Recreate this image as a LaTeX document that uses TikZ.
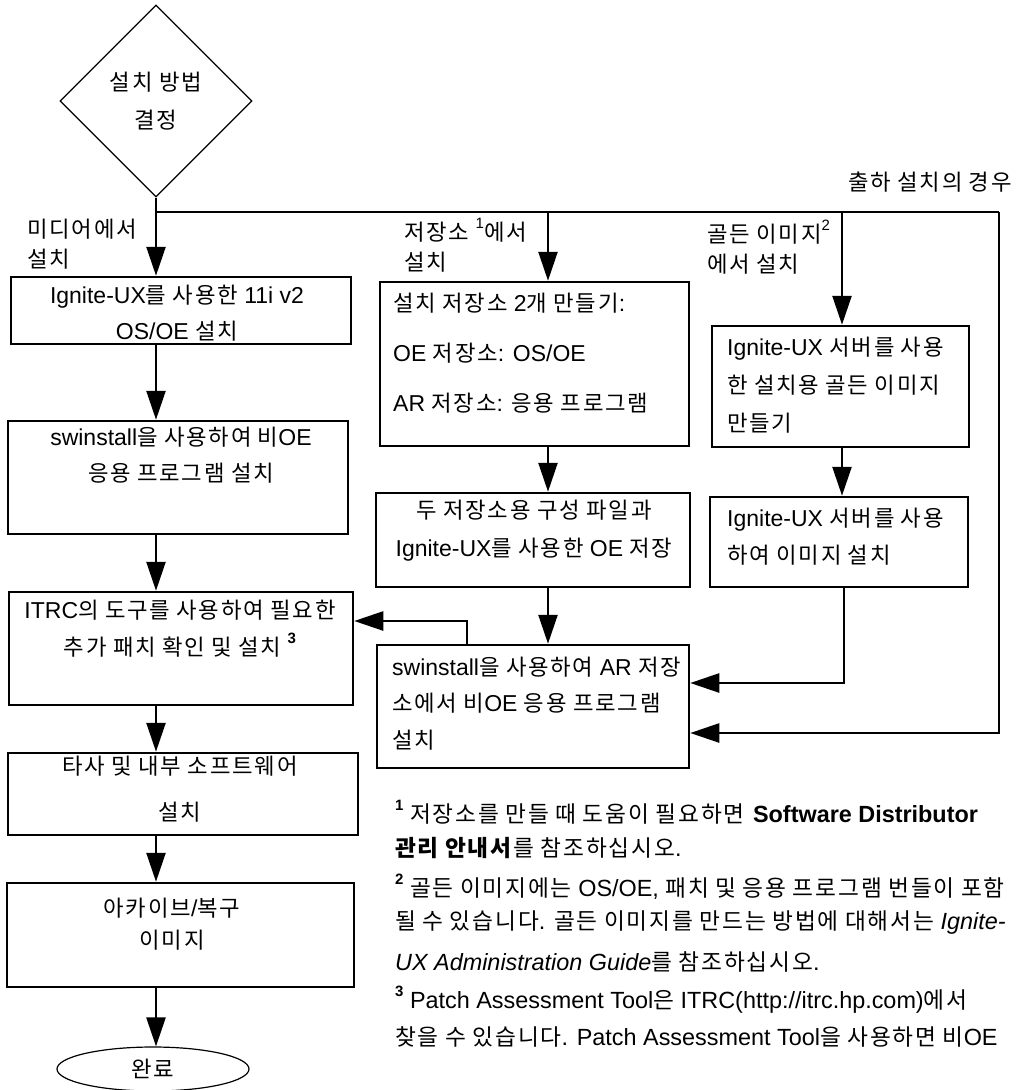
\documentclass[tikz,border=0pt]{standalone}
\usepackage{fontspec}
\setmainfont{Liberation Sans}
\newfontfamily\krfont{Noto Sans CJK KR}[Scale=0.97,LetterSpace=8,NFSSFamily=krnf]
\usetikzlibrary{arrows.meta,shapes.geometric}
% automatic font switching for Hangul syllables
\XeTeXinterchartokenstate=1
\newXeTeXintercharclass\krcls
\newcount\krcnt
\krcnt="AC00
\loop
  \XeTeXcharclass\krcnt=\krcls
  \ifnum\krcnt<"D7A3 \advance\krcnt by 1
\repeat
\def\krswitch{\fontfamily{krnf}\selectfont}
\def\laswitch{\fontfamily{\rmdefault}\selectfont}
\XeTeXinterchartoks 0 \krcls = {\krswitch}
\XeTeXinterchartoks 4095 \krcls = {\krswitch}
\XeTeXinterchartoks \krcls 0 = {\laswitch}
\XeTeXinterchartoks \krcls 4095 = {\laswitch}
\newcommand\supn[1]{\raisebox{0.5em}{\fontsize{15}{15}\selectfont #1}}
\newcommand\supb[1]{\raisebox{0.5em}{\fontsize{15}{15}\selectfont\bfseries #1}}
\tikzset{
  bx/.style={draw, line width=2.5pt, rectangle, inner sep=0pt},
  ln/.style={line width=2.5pt},
  arr/.style={line width=2.5pt, -{Triangle[length=29pt,width=19pt]}},
  txt/.style={inner sep=0pt, font=\fontsize{23}{36}\selectfont},
  fn/.style={inner sep=0pt, anchor=west, font=\fontsize{23.4}{36}\selectfont},
}
\begin{document}
\begin{tikzpicture}[x=1pt,y=-1pt]
\useasboundingbox (0,0) rectangle (1022,1090);
% decision
\node[draw, diamond, aspect=1, line width=1.3pt, minimum width=192pt, minimum height=192pt,
      inner sep=0pt, align=center, font=\fontsize{23}{38}\selectfont] (D) at (156,101) {설치 방법\\결정};
% left column boxes
\node[bx, minimum width=340pt, minimum height=67pt] (L1) at (181,310.5) {};
\node[txt, align=center] (L1t) at (177,313) {Ignite-UX를 사용한 11i v2\\OS/OE 설치};
\node[bx, minimum width=340pt, minimum height=113pt] (L2) at (178,477.5) {};
\node[txt, align=center] (L2t) at (181,455) {swinstall을 사용하여 비OE\\응용 프로그램 설치};
\node[bx, minimum width=344pt, minimum height=113pt] (L3) at (181,648.5) {};
\node[txt, align=center, font=\fontsize{23}{37}\selectfont] (L3t) at (180,628.5) {ITRC의 도구를 사용하여 필요한\\추가 패치 확인 및 설치 \supb{3}};
\node[bx, minimum width=350pt, minimum height=82pt] (L4) at (183,794) {};
\node[txt, align=center, font=\fontsize{23}{46}\selectfont] (L4t) at (180,789) {타사 및 내부 소프트웨어\\설치};
\node[bx, minimum width=347pt, minimum height=104pt] (L5) at (180.5,935) {};
\node[txt, align=center, font=\fontsize{23}{32}\selectfont] (L5t) at (172,924) {아카이브/복구\\이미지};
\node[draw, ellipse, line width=1.2pt, minimum width=192pt, minimum height=44pt, inner sep=0pt,
      font=\fontsize{23}{26}\selectfont] (E) at (153,1069) {완료};
% middle column
\node[bx, minimum width=309pt, minimum height=164pt] (M1) at (534.5,364) {};
\node[txt, align=left, anchor=west, font=\fontsize{23}{50}\selectfont] (M1t) at (393,353) {설치 저장소 2개 만들기:\\OE 저장소: OS/OE\\AR 저장소: 응용 프로그램};
\node[bx, minimum width=314pt, minimum height=94pt] (M2) at (533,540) {};
\node[txt, align=center, font=\fontsize{23}{38}\selectfont] (M2t) at (534,531) {두 저장소용 구성 파일과\\Ignite-UX를 사용한 OE 저장};
\node[bx, minimum width=312pt, minimum height=123pt] (AR) at (533,706.5) {};
\node[txt, align=left, anchor=west, font=\fontsize{23}{36.5}\selectfont] (ARt) at (392,703.5) {swinstall을 사용하여 AR 저장\\소에서 비OE 응용 프로그램\\설치};
% right column
\node[bx, minimum width=257pt, minimum height=121pt] (R1) at (840.5,386.5) {};
\node[txt, align=left, anchor=west, font=\fontsize{23}{38}\selectfont] (R1t) at (727,385) {Ignite-UX 서버를 사용\\한 설치용 골든 이미지\\만들기};
\node[bx, minimum width=258pt, minimum height=90pt] (R2) at (839,542) {};
\node[txt, align=left, anchor=west, font=\fontsize{23}{37}\selectfont] (R2t) at (727,536.5) {Ignite-UX 서버를 사용\\하여 이미지 설치};
% branch labels
\node[txt, align=left, anchor=west, font=\fontsize{23}{30}\selectfont] (lab1) at (27,244) {미디어에서\\설치};
\node[txt, align=left, anchor=west, font=\fontsize{23}{30}\selectfont] (lab2) at (404,245) {저장소 \supn{1}에서\\설치};
\node[txt, align=left, anchor=west, font=\fontsize{23}{30}\selectfont] (lab3) at (707,247) {골든 이미지\supn{2}\\에서 설치};
\node[txt, anchor=east] (lab4) at (1012,182) {출하 설치의 경우};
% coordinates
\coordinate (J) at (156,212);
\coordinate (TR) at (999,212);
\coordinate (TRb) at (999,733);
\coordinate (cM) at (548,212);
\coordinate (cR) at (842,212);
\coordinate (bk) at (467,621);
\coordinate (r2c) at (844,683);
% connectors
\draw[ln] (D.south) -- (J) -- (TR);
\draw[arr] (J) -- (L1.north -| J);
\draw[arr] (L1.south -| J) -- (L2.north -| J);
\draw[arr] (L2.south -| J) -- (L3.north -| J);
\draw[arr] (L3.south -| J) -- (L4.north -| J);
\draw[arr] (L4.south -| J) -- (L5.north -| J);
\draw[arr] (L5.south -| J) -- (E.north -| J);
\draw[arr] (cM) -- (M1.north -| cM);
\draw[arr] (M1.south -| cM) -- (M2.north -| cM);
\draw[arr] (M2.south -| cM) -- (AR.north -| cM);
\draw[arr] (AR.north -| bk) -- (bk) -- (bk -| L3.east);
\draw[arr] (cR) -- (R1.north -| cR);
\draw[arr] (R1.south -| cR) -- (R2.north -| cR);
\draw[arr] (R2.south -| r2c) -- (r2c) -- (r2c -| AR.east);
\draw[arr] (TR) -- (TRb) -- (TRb -| AR.east);
% footnotes
\node[fn] (f1a) at (395,812) {\supb{1} 저장소를 만들 때 도움이 필요하면 \textbf{Software Distributor}};
\node[fn] (f1b) at (395,848) {\textbf{관리 안내서}를 참조하십시오.};
\node[fn] (f2a) at (395,887) {\supb{2} 골든 이미지에는 OS/OE, 패치 및 응용 프로그램 번들이 포함};
\node[fn] (f2b) at (395,923) {될 수 있습니다. 골든 이미지를 만드는 방법에 대해서는 \textit{Ignite-}};
\node[fn] (f2c) at (395,962) {\textit{UX Administration Guide}를 참조하십시오.};
\node[fn] (f3a) at (395,1000) {\supb{3} Patch Assessment Tool은 ITRC(http://itrc.hp.com)에서};
\node[fn] (f3b) at (395,1037) {찾을 수 있습니다. Patch Assessment Tool을 사용하면 비OE};
\end{tikzpicture}
\end{document}
